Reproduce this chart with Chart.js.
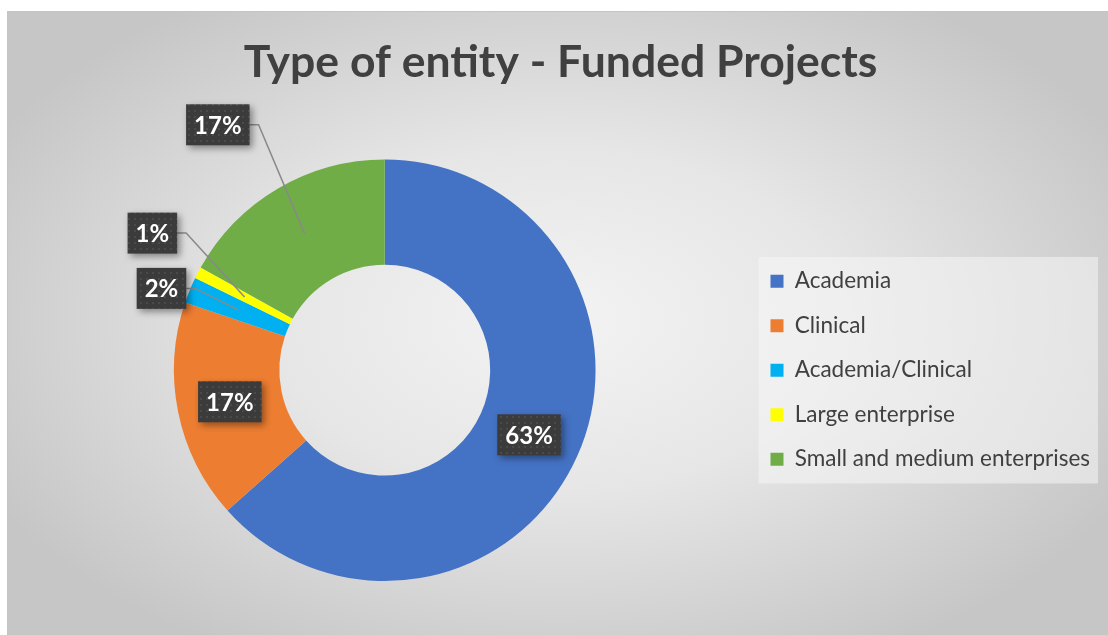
<!DOCTYPE html>
<html>
<head>
<meta charset="utf-8">
<script src="https://cdn.jsdelivr.net/npm/chart.js@4.4.1/dist/chart.umd.min.js"></script>
<style>
  html, body { margin: 0; padding: 0; background: #ffffff; }
  #wrap { position: relative; width: 1108px; height: 635px; }
</style>
</head>
<body>
<div id="wrap"><canvas id="entityChart"></canvas></div>
<script>
const categories = ["Academia", "Clinical", "Academia/Clinical", "Large enterprise", "Small and medium enterprises"];
const shares = [63.4, 16.8, 2.0, 0.9, 16.9];
const colors = ["#4472c4", "#ed7d31", "#00b0f0", "#ffff00", "#70ad47"];

// where each percentage box sits: inside the ring, or pushed out with a leader line
const labelPlacement = [
  { inside: true },
  { inside: true },
  { inside: false, turn: -2.2, gap: 27 },
  { inside: false, turn: 3.0, gap: 59 },
  { inside: false, turn: -3.8, gap: 86 }
];

function makeDotPattern(ctx) {
  const c = document.createElement("canvas");
  c.width = 6;
  c.height = 6;
  const p = c.getContext("2d");
  p.fillStyle = "#3b3b3b";
  p.fillRect(0, 0, 6, 6);
  p.fillStyle = "#4a4a4a";
  p.fillRect(2, 2, 2, 2);
  return ctx.createPattern(c, "repeat");
}

const frameBackground = {
  id: "frameBackground",
  beforeDraw(chart) {
    const { ctx, width, height } = chart;
    const x0 = 7, y0 = 11;
    ctx.save();
    ctx.beginPath();
    ctx.rect(x0, y0, width - x0, height - y0);
    ctx.clip();
    const cx = (x0 + width) / 2, cy = 320;
    ctx.translate(cx, cy);
    ctx.scale(1, 0.6);
    const g = ctx.createRadialGradient(0, 0, 0, 0, 0, 640);
    g.addColorStop(0, "#f3f3f3");
    g.addColorStop(0.45, "#e6e6e6");
    g.addColorStop(1, "#c6c6c6");
    ctx.fillStyle = g;
    ctx.fillRect(-cx, -cy / 0.6, width * 2, height * 2 / 0.6);
    ctx.restore();

    ctx.save();
    ctx.strokeStyle = "#c4c4c4";
    ctx.lineWidth = 1;
    ctx.beginPath();
    ctx.moveTo(x0 + 0.5, height);
    ctx.lineTo(x0 + 0.5, y0 + 0.5);
    ctx.lineTo(width, y0 + 0.5);
    ctx.stroke();

    // light panel behind the legend
    const boxes = chart.legend && chart.legend.legendHitBoxes;
    if (boxes && boxes.length) {
      const top = boxes[0].top - 13;
      const bottom = boxes[boxes.length - 1].top + boxes[boxes.length - 1].height + 13;
      const left = chart.legend.left + 10;
      const right = chart.legend.right - 2;
      ctx.fillStyle = "rgba(246,246,246,0.55)";
      ctx.fillRect(left, top, right - left, bottom - top);
    }
    ctx.restore();
  }
};

const percentLabels = {
  id: "percentLabels",
  afterDatasetsDraw(chart) {
    const { ctx } = chart;
    const meta = chart.getDatasetMeta(0);
    const values = chart.data.datasets[0].data;
    const total = values.reduce((a, b) => a + b, 0);
    const pattern = makeDotPattern(ctx);

    meta.data.forEach((arc, i) => {
      const text = Math.round(values[i] / total * 100) + "%";
      const place = labelPlacement[i];
      const anchor = arc.tooltipPosition();
      let lx = anchor.x, ly = anchor.y;

      ctx.save();
      ctx.font = "bold 24px Lato";
      const w = ctx.measureText(text).width + 16;
      const h = 41;

      if (!place.inside) {
        const mid = (arc.startAngle + arc.endAngle) / 2 + place.turn * Math.PI / 180;
        const r = arc.outerRadius + place.gap;
        lx = arc.x + Math.cos(mid) * r;
        ly = arc.y + Math.sin(mid) * r;
        ctx.strokeStyle = "#898989";
        ctx.lineWidth = 1.5;
        ctx.beginPath();
        ctx.moveTo(lx + w / 2, ly);
        ctx.lineTo(lx + w / 2 + 9, ly);
        ctx.lineTo(anchor.x, anchor.y);
        ctx.stroke();
      }

      ctx.shadowColor = "rgba(0,0,0,0.4)";
      ctx.shadowBlur = 7;
      ctx.shadowOffsetX = 3;
      ctx.shadowOffsetY = 3;
      ctx.fillStyle = pattern;
      ctx.fillRect(lx - w / 2, ly - h / 2, w, h);
      ctx.shadowColor = "transparent";

      ctx.fillStyle = "#ffffff";
      ctx.textAlign = "center";
      ctx.textBaseline = "middle";
      ctx.fillText(text, lx, ly + 1);
      ctx.restore();
    });
  }
};

const ctx = document.getElementById("entityChart").getContext("2d");
new Chart(ctx, {
  type: "doughnut",
  data: {
    labels: categories,
    datasets: [{
      data: shares,
      backgroundColor: colors,
      borderWidth: 0,
    }],
  },
  options: {
    responsive: true,
    maintainAspectRatio: false,
    animation: false,
    cutout: "50%",
    layout: { padding: { left: 21, right: 8, top: 11, bottom: 54 } },
    plugins: {
      title: {
        display: true,
        text: "Type of entity - Funded Projects",
        color: "#404040",
        font: { family: "Lato", size: 44.5, weight: "bold" },
        padding: { top: 24.5, bottom: 70.5 },
      },
      legend: {
        position: "right",
        fullSize: false,
        labels: {
          boxWidth: 13,
          boxHeight: 13,
          padding: 22,
          color: "#404040",
          font: { family: "Lato", size: 22.5 },
        },
      },
      tooltip: { enabled: false },
    },
  },
  plugins: [frameBackground, percentLabels],
});
</script>
</body>
</html>
